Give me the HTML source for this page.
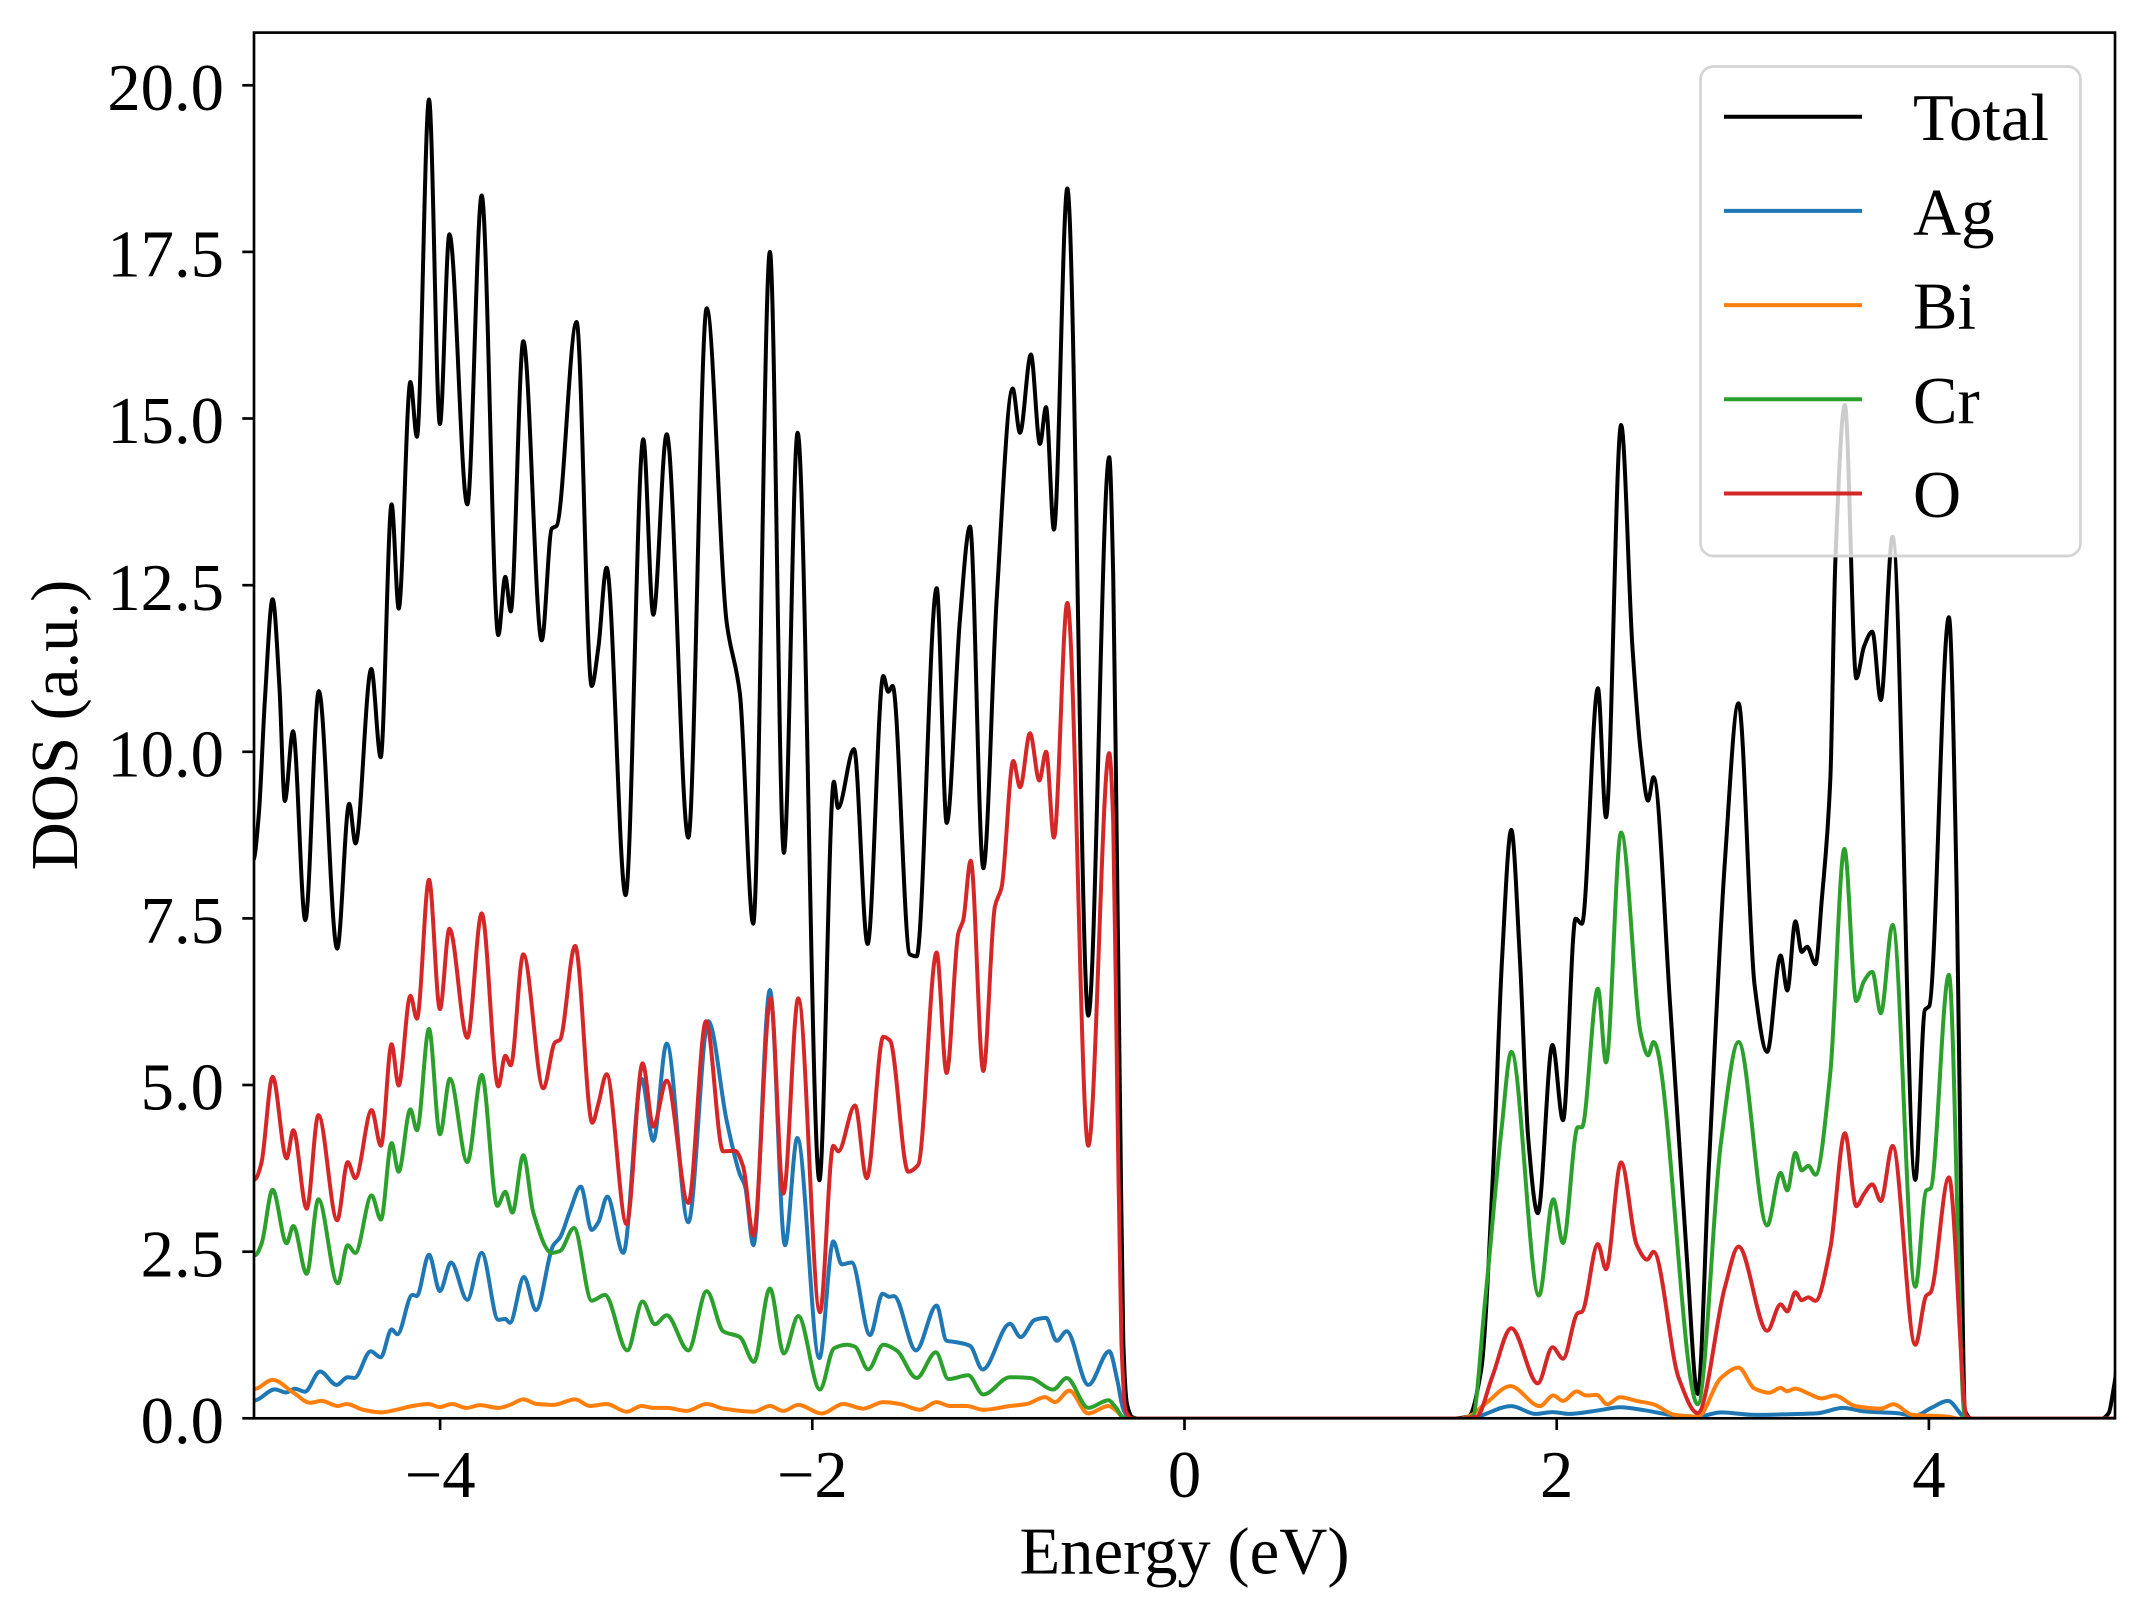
<!DOCTYPE html>
<html><head><meta charset="utf-8">
<style>
html,body{margin:0;padding:0;background:#fff;}
svg{display:block}
text{font-family:"Liberation Serif","Times New Roman",serif;font-size:66.67px;fill:#000}
</style></head>
<body>
<svg id="c" xmlns="http://www.w3.org/2000/svg" width="2147" height="1617" viewBox="0 0 2147 1617">
<defs><clipPath id="clip"><rect x="254" y="32.6" width="1861" height="1385.7"/></clipPath></defs>
<rect width="2147" height="1617" fill="#fff"/>
<g clip-path="url(#clip)" fill="none" stroke-width="4" stroke-linejoin="round">
<path id="pT" stroke="#000000"/>
<path id="pAg" stroke="#1f77b4"/>
<path id="pBi" stroke="#ff7f0e"/>
<path id="pCr" stroke="#2ca02c"/>
<path id="pO" stroke="#d62728"/>
</g>
<rect x="254" y="32.6" width="1861" height="1385.7" fill="none" stroke="#000" stroke-width="2.67"/>
<g stroke="#000" stroke-width="2.67">
<line x1="242.3" x2="254" y1="1418.3" y2="1418.3"/>
<line x1="242.3" x2="254" y1="1251.7" y2="1251.7"/>
<line x1="242.3" x2="254" y1="1085.0" y2="1085.0"/>
<line x1="242.3" x2="254" y1="918.4" y2="918.4"/>
<line x1="242.3" x2="254" y1="751.8" y2="751.8"/>
<line x1="242.3" x2="254" y1="585.2" y2="585.2"/>
<line x1="242.3" x2="254" y1="418.5" y2="418.5"/>
<line x1="242.3" x2="254" y1="251.9" y2="251.9"/>
<line x1="242.3" x2="254" y1="85.3" y2="85.3"/>
<line x1="440.1" x2="440.1" y1="1418.3" y2="1430"/>
<line x1="812.3" x2="812.3" y1="1418.3" y2="1430"/>
<line x1="1184.5" x2="1184.5" y1="1418.3" y2="1430"/>
<line x1="1556.7" x2="1556.7" y1="1418.3" y2="1430"/>
<line x1="1928.9" x2="1928.9" y1="1418.3" y2="1430"/>
</g>
<g text-anchor="end">
<text x="224" y="1443">0.0</text>
<text x="224" y="1276.4">2.5</text>
<text x="224" y="1109.7">5.0</text>
<text x="224" y="943.1">7.5</text>
<text x="224" y="776.5">10.0</text>
<text x="224" y="609.9">12.5</text>
<text x="224" y="443.2">15.0</text>
<text x="224" y="276.6">17.5</text>
<text x="224" y="110">20.0</text>
</g>
<g text-anchor="middle">
<text x="440.1" y="1497">−4</text>
<text x="812.3" y="1497">−2</text>
<text x="1184.5" y="1497">0</text>
<text x="1556.7" y="1497">2</text>
<text x="1928.9" y="1497">4</text>
<text x="1184.5" y="1573.3">Energy (eV)</text>
<text x="77" y="725" transform="rotate(-90 77 725)">DOS (a.u.)</text>
</g>
<rect x="1700.5" y="66.5" width="380" height="489.5" rx="13" ry="13" fill="#fff" fill-opacity="0.8" stroke="#d4d4d4" stroke-width="2.67"/>
<g stroke-width="4">
<line x1="1724" x2="1862" y1="116.7" y2="116.7" stroke="#000"/>
<line x1="1724" x2="1862" y1="210.9" y2="210.9" stroke="#1f77b4"/>
<line x1="1724" x2="1862" y1="305.1" y2="305.1" stroke="#ff7f0e"/>
<line x1="1724" x2="1862" y1="399.3" y2="399.3" stroke="#2ca02c"/>
<line x1="1724" x2="1862" y1="493.5" y2="493.5" stroke="#d62728"/>
</g>
<text x="1913" y="140.2">Total</text>
<text x="1913" y="234.4">Ag</text>
<text x="1913" y="328.6">Bi</text>
<text x="1913" y="422.8">Cr</text>
<text x="1913" y="517">O</text>
</svg>
<script>
(function(){
var S=2147/1568;
function mono(pts){
  var n=pts.length,x=[],y=[],d=[],m=[],i;
  for(i=0;i<n;i++){x.push(pts[i][0]*S);y.push(pts[i][1]*S);}
  for(i=0;i<n-1;i++)d[i]=(y[i+1]-y[i])/(x[i+1]-x[i]);
  m[0]=0;m[n-1]=0;
  for(i=1;i<n-1;i++){
    if(d[i-1]*d[i]<=0){m[i]=0;}
    else{var h0=x[i]-x[i-1],h1=x[i+1]-x[i],w1=2*h1+h0,w2=h1+2*h0;m[i]=(w1+w2)/(w1/d[i-1]+w2/d[i]);}
  }
  var s='M'+x[0].toFixed(1)+' '+y[0].toFixed(1);
  for(i=0;i<n-1;i++){
    var h=x[i+1]-x[i];
    s+='C'+(x[i]+h/3).toFixed(1)+' '+(y[i]+m[i]*h/3).toFixed(1)+' '+(x[i+1]-h/3).toFixed(1)+' '+(y[i+1]-m[i+1]*h/3).toFixed(1)+' '+x[i+1].toFixed(1)+' '+y[i+1].toFixed(1);
  }
  return s;
}
var T=[[185,628],[189,595],[193.5,510],[199.1,437.6],[204,500],[208,585],[214,534],[223,672],[232.8,504.7],[246.3,692.8],[255,587],[259.6,616],[271.2,488.6],[278,553],[286,368.4],[291.2,444.5],[299.7,279],[304.5,319],[313.3,72.7],[321.3,309.7],[328.2,171.1],[341.3,368.4],[351.8,142.8],[363.9,463.8],[369,421.2],[373,446.5],[382.2,249.2],[395.6,467.7],[403,386],[406.5,384],[421.1,235.2],[432.1,501],[437,472.7],[443,414.7],[456.9,653.7],[469.8,320.8],[477.1,448.9],[486.9,317.2],[502.7,611.7],[516.1,225.1],[530.7,454.7],[540.4,506.7],[550.1,674.6],[562.3,183.8],[572.5,622.9],[582.5,316.1],[598.4,861.9],[609,571],[612,590],[623.7,547.1],[633.6,689.4],[645.1,493.7],[648.7,505.2],[651.9,500.9],[664.5,697],[669.4,698.4],[684.1,429.6],[691.4,601],[701.1,451.8],[708.4,384.6],[718.1,634.1],[727.9,437.4],[739.6,283.7],[744.9,316.1],[752.9,258.9],[759.5,324.2],[763.9,297.3],[769.7,386.8],[779.5,137.7],[794.8,741.7],[810.1,334],[813,420],[815.5,606],[818,810],[820.4,980],[823,1025],[827,1035],[832,1036],[1060,1036],[1072.3,1034.6],[1081.6,1001.3],[1090.8,847.6],[1097,700],[1103.7,606.1],[1110,700],[1116,830],[1123.1,886],[1133.8,763.1],[1141.5,818.2],[1150.7,670.9],[1155.3,674.7],[1167,502.7],[1172.9,596.9],[1183.9,310.4],[1192.2,472.2],[1198.4,550.1],[1203.6,584.7],[1207.6,567.7],[1220,738],[1232,919],[1239.9,1018],[1248,853],[1259.8,628],[1269.7,513.6],[1281.4,719.5],[1290.6,768.2],[1300.4,697.8],[1305.3,723.4],[1311.2,672.9],[1315.8,695.2],[1319.8,691.4],[1325.9,704.2],[1330.5,657],[1336.7,569.6],[1340.4,409],[1347.4,295.8],[1355.7,495.4],[1361.3,472.2],[1367.4,461.3],[1373.6,511.2],[1382.2,391.9],[1398.8,861.7],[1405.8,737.5],[1408.9,734.9],[1423.3,450.8],[1429,650],[1432,860],[1435,1030],[1440,1036],[1535,1036],[1540,1032],[1544,1012],[1550,975]];
var O=[[185,862],[187,860.5],[191,849],[199.1,786.4],[209.3,846],[214.2,825.5],[224,882.8],[232.5,814.4],[246.3,891.2],[253.9,848.7],[259.5,860.5],[271.4,810.7],[278.2,836.7],[286,762.7],[291.1,792.8],[299.7,727.2],[304.5,744],[313.3,642.5],[321.3,737],[328.2,678.3],[341.3,757.9],[351.8,667.1],[363.9,793.4],[369,771],[373,778],[382.2,697],[396.8,794.8],[405.3,761.3],[409,759.3],[420,690.8],[432.6,820],[437,806],[443,784.5],[457.6,894],[469.3,776.6],[477.1,822.8],[486.9,789.2],[502.7,878.6],[515.6,745.9],[528.2,840.9],[536.8,840.4],[542.8,852.1],[550.2,902.4],[562.8,729.1],[572.1,871.7],[583,729.1],[598.8,958.3],[608.6,836.7],[612.2,840.9],[624.4,807.4],[633,860.5],[645.1,757.1],[650,759.9],[663.3,855.7],[670.6,850.7],[684,695.6],[691.3,783.6],[699.9,681.6],[703.5,671.8],[708.9,628.5],[718.1,782.2],[726.6,662],[731.5,648],[740,555.8],[745,575],[752.2,535.5],[759,570],[764,549],[769.7,611.7],[779.5,440.3],[794.8,836.7],[810.1,550],[813,600],[816,800],[819,980],[822,1030],[827,1036],[1066,1036],[1078.5,1034.6],[1090,1005],[1103.7,970.1],[1123.1,1010.3],[1133.8,983.9],[1141.5,992.3],[1152.3,959],[1155.3,958],[1167,908.6],[1172.9,927],[1183.9,848.9],[1195.3,909.1],[1203,919.9],[1207.6,914.2],[1226,1006.4],[1239.9,1032],[1259.8,939.8],[1269.7,910.4],[1290.6,971.9],[1300.4,952.6],[1305.3,957.8],[1311.2,943.7],[1315.8,949.6],[1320.7,947.5],[1325.9,950.1],[1336.7,911.6],[1347.4,827.6],[1355.7,880.9],[1361.3,872],[1367.4,865],[1373.6,877.1],[1382.2,836.9],[1398.8,982.1],[1406.8,946.2],[1409.9,944],[1423.3,859.9],[1436.6,1034.6],[1441,1036],[1550,1036]];
var Cr=[[185,917],[186.9,916.4],[191.1,908],[199.1,868.9],[209.3,908],[214.2,895.4],[224,930.3],[232.5,875.9],[246.7,937.3],[253.9,909.4],[259.5,915],[271.4,873],[278.2,890.7],[286,834.8],[291.1,855.7],[299.7,810.2],[304.5,825.5],[313.3,751.5],[321.3,828.3],[328.6,787.8],[341.3,848.7],[351.8,785],[363.2,880.6],[369,870.3],[374.2,885.6],[382.2,843.7],[389.5,885.6],[402.9,915],[409,913.6],[419.2,896.8],[432.1,949.9],[441.8,945.7],[458.1,986.2],[469.3,950.5],[478.3,967.2],[486.9,960.5],[502.7,986.2],[516.1,942.9],[528.2,972.3],[540.4,976.5],[550.6,994.6],[562.3,941],[572.5,988.5],[583,961.1],[598.8,1014.8],[609,984.8],[618.3,982.1],[624.4,983.5],[634.1,1000.2],[645.1,982.1],[654.8,986.2],[669.4,1006.4],[683.5,987.6],[692.6,1007.2],[707.2,1004.4],[718.1,1018.4],[737.6,1005.8],[752.2,1006.4],[769.2,1014.8],[779,1006.4],[794.8,1028.2],[809.4,1022.6],[815,1028],[820.3,1035.2],[826,1036],[1066,1036],[1075.4,1034.6],[1084.6,950],[1096.9,822],[1103.7,768.2],[1124,946.2],[1134.4,875.8],[1141.5,907.8],[1152.3,823.3],[1155.3,823.3],[1167,722.1],[1172.9,775.9],[1183.9,608],[1198.4,755.4],[1203.6,770.8],[1207.6,761],[1239.9,1025.6],[1256.8,834.8],[1269.7,761],[1290.6,895],[1300.4,856.6],[1305.3,869.4],[1311.2,842],[1315.8,854.8],[1320.7,851.5],[1325.9,857.9],[1336.7,783.6],[1347,620],[1355.7,731.1],[1361.3,716.5],[1367.4,709.8],[1373.6,740],[1382.2,675.5],[1398.8,939.8],[1406.8,869.4],[1409.9,868],[1423.3,711.9],[1435,1034.6],[1440,1036],[1550,1036]];
var Ag=[[185,1023],[186.9,1022.6],[200.8,1014.7],[208.9,1017],[215.4,1014.2],[222.7,1016.4],[233.7,1001.6],[245.9,1011.4],[253.9,1005.8],[258.8,1006.4],[270.7,986.8],[278,991.3],[286,970.9],[290.2,974.5],[301.1,945.7],[304.3,946.5],[313.3,916.4],[321.3,942.9],[329.4,922],[341.3,949.3],[351.8,915],[363.9,963.9],[369,963.3],[372.4,966.1],[382.7,932.6],[391.4,956.9],[404.1,909.4],[409,903.8],[416.3,884.2],[424.1,866.6],[432.1,898.2],[437,892.6],[443.5,873.9],[455.2,915],[468.6,787.8],[477.1,833.1],[486.9,762.1],[502.7,892.6],[517.3,745.9],[530.7,818.6],[540.4,857.7],[544.1,866.1],[550.2,909.4],[562.3,723],[573.3,909.4],[582.3,831.1],[598.4,991.8],[608.6,906.6],[614.7,923.4],[622,922],[635.4,975],[644.6,944.9],[649.5,947.1],[652.9,946.6],[669,986.2],[684,953.5],[691.3,979.2],[697.4,980.1],[708.4,982.9],[717.6,1000.2],[737.6,966.7],[745.4,976.5],[755.8,963.9],[763.9,962.5],[771.7,979.2],[779,972.3],[794.8,1011.4],[810.1,986.8],[816,1008],[820,1028],[824,1035],[829,1036],[1066,1036],[1075.4,1035.4],[1103.7,1026.9],[1121.5,1032.6],[1133.8,1031.3],[1146.1,1032.6],[1167.6,1030],[1183,1027.7],[1201.4,1030],[1219.9,1033.3],[1239.9,1034.6],[1256.8,1031.5],[1281.4,1033.3],[1305.9,1032.8],[1327.5,1032.1],[1346,1028.2],[1361.3,1030.8],[1385.9,1032.1],[1398.2,1034.1],[1410.4,1028.2],[1422.7,1023.1],[1435,1035.1],[1440,1036],[1550,1036]];
var Bi=[[185,1014.5],[186.9,1014.2],[199.1,1007.8],[214.2,1017],[226.4,1024.5],[234.9,1023.1],[246.7,1026.8],[253.2,1025.4],[265.3,1029.6],[278.3,1031.5],[289.3,1029.6],[299,1027.3],[312.8,1025.4],[321.3,1027.6],[329.9,1025.4],[340.8,1028.2],[350.5,1026.2],[364,1028.2],[372.4,1026],[382.2,1022],[392,1025.4],[404.1,1026],[420,1022],[430.9,1026.8],[443,1025.4],[457.6,1031],[468.6,1026.8],[477.1,1028.2],[486.9,1028.2],[501.5,1030.4],[516.1,1025.4],[528.2,1028.7],[550.2,1031],[562.3,1026.8],[572.1,1030.4],[583,1026],[600,1032.3],[615.9,1025.4],[630.5,1028.7],[645.1,1024],[657.3,1025.4],[671.9,1029.6],[684,1024],[693.8,1026.8],[706,1026.8],[718.1,1029.6],[737.6,1026.8],[749.8,1025.4],[763.2,1020.3],[770.5,1024],[780.9,1015.6],[794.8,1032.3],[809.4,1026.8],[815,1030],[820.3,1035.2],[826,1036],[1066,1036],[1072.3,1034.6],[1085,1025],[1103.1,1012.3],[1124.6,1026.9],[1134.4,1019.2],[1141.5,1023.1],[1151.6,1016.2],[1158.4,1019.2],[1166.1,1018.7],[1173.8,1025.6],[1183,1020.5],[1195.3,1023.1],[1207.6,1025.6],[1223,1033.3],[1239.9,1034.6],[1256.8,1006.4],[1269.7,998.8],[1281.4,1014.1],[1292.1,1017.2],[1300.4,1013.6],[1305,1016],[1311.2,1014.1],[1321.3,1018],[1330.5,1021.3],[1339.8,1019.2],[1355.1,1026.9],[1373.6,1028.7],[1382.8,1025.6],[1396.6,1033.3],[1422.7,1034.6],[1430,1036],[1550,1036]];
document.getElementById('pT').setAttribute('d',mono(T));
document.getElementById('pAg').setAttribute('d',mono(Ag));
document.getElementById('pBi').setAttribute('d',mono(Bi));
document.getElementById('pCr').setAttribute('d',mono(Cr));
document.getElementById('pO').setAttribute('d',mono(O));
})();
</script>
</body></html>
